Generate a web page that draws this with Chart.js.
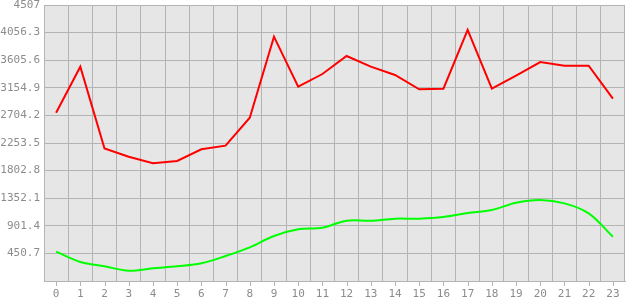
<!DOCTYPE html>
<html>
<head>
<meta charset="utf-8">
<script src="https://cdn.jsdelivr.net/npm/chart.js@4/dist/chart.umd.min.js"></script>
<style>
  html, body { margin: 0; padding: 0; background: #fff; }
  #wrap { width: 630px; height: 300px; }
</style>
</head>
<body>
<div id="wrap"><canvas id="chart"></canvas></div>
<script>
// hours of the day
const hours = ['0','1','2','3','4','5','6','7','8','9','10','11','12','13','14','15','16','17','18','19','20','21','22','23'];

// red series
const redValues = [2748, 3500, 2165, 2030, 1922, 1960, 2150, 2210, 2667, 3990, 3173, 3380,
                   3674, 3500, 3364, 3130, 3140, 4099, 3140, 3355, 3576, 3516, 3516, 2977];

// green series
const greenValues = [479, 310, 240, 168, 207, 240, 289, 408, 550, 735, 844, 870,
                     985, 985, 1018, 1018, 1045, 1110, 1160, 1279, 1323, 1268, 1105, 724];

// y axis ticks
const yTicks = [0, 450.7, 901.4, 1352.1, 1802.8, 2253.5, 2704.2, 3154.9, 3605.6, 4056.3, 4507];

const gridColor = '#b4b4b4';
const labelColor = '#8c8c8c';
const monoFont = { family: '"DejaVu Sans Mono", monospace', size: 11 };

// grey plot background + tick marks under the x axis at each label
const plotBackground = {
    id: 'plotBackground',
    beforeDraw(chart) {
        const { ctx, chartArea } = chart;
        ctx.save();
        ctx.fillStyle = '#e6e6e6';
        ctx.fillRect(chartArea.left, chartArea.top, chartArea.right - chartArea.left, chartArea.bottom - chartArea.top);
        ctx.restore();
    },
    afterDraw(chart) {
        const { ctx, chartArea } = chart;
        const xScale = chart.scales.x;
        ctx.save();
        ctx.strokeStyle = gridColor;
        ctx.lineWidth = 1;
        for (let i = 0; i < hours.length; i++) {
            const px = Math.round(xScale.getPixelForTick(i)) + 0.5;
            ctx.beginPath();
            ctx.moveTo(px, chartArea.bottom);
            ctx.lineTo(px, chartArea.bottom + 5);
            ctx.stroke();
        }
        ctx.restore();
    }
};

new Chart(document.getElementById('chart').getContext('2d'), {
    type: 'line',
    data: {
        labels: hours,
        datasets: [
            {
                data: redValues,
                borderColor: '#ff0000',
                borderWidth: 2,
                pointRadius: 0,
                tension: 0,
                fill: false
            },
            {
                data: greenValues,
                borderColor: '#00ff00',
                borderWidth: 2,
                pointRadius: 0,
                tension: 0.35,
                fill: false
            }
        ]
    },
    options: {
        responsive: true,
        maintainAspectRatio: false,
        animation: false,
        layout: { padding: { top: 5, right: 5, left: 0, bottom: 0 } },
        plugins: {
            legend: { display: false },
            tooltip: { enabled: false }
        },
        scales: {
            x: {
                offset: true,
                grid: {
                    offset: true,
                    color: gridColor,
                    drawTicks: false
                },
                border: { color: gridColor },
                ticks: {
                    color: labelColor,
                    font: monoFont,
                    padding: 7,
                    maxRotation: 0,
                    autoSkip: false
                },
                afterFit(scale) {
                    scale.height = 19;
                    scale.paddingLeft = 0;
                    scale.paddingRight = 0;
                }
            },
            y: {
                min: 0,
                max: 4507,
                grid: {
                    color: gridColor,
                    drawTicks: false
                },
                border: { color: gridColor },
                afterBuildTicks(scale) {
                    scale.ticks = yTicks.map(v => ({ value: v }));
                },
                ticks: {
                    color: labelColor,
                    font: monoFont,
                    padding: 4,
                    callback: function(value) {
                        if (value === 0) return '';
                        return (Math.round(value * 10) / 10).toString();
                    }
                },
                afterFit(scale) {
                    scale.width = 44;
                    scale.paddingTop = 0;
                    scale.paddingBottom = 0;
                }
            }
        }
    },
    plugins: [plotBackground]
});
</script>
</body>
</html>
